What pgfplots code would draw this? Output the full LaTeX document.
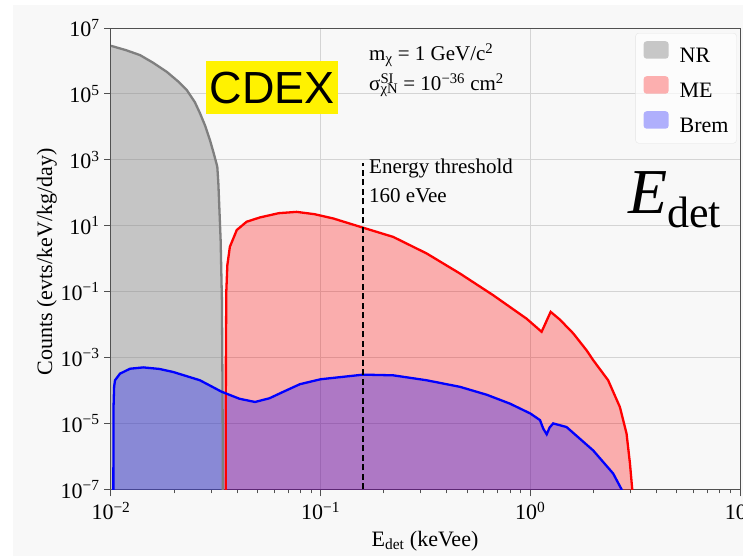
\documentclass[border=0pt]{standalone}
\usepackage{fontspec}
\setmainfont{Liberation Serif}
\newfontfamily\arial{Liberation Sans}
\usepackage{pgfplots}
\pgfplotsset{compat=1.18}
\definecolor{bgc}{HTML}{F8F8F8}
\definecolor{axc}{HTML}{505050}
\definecolor{gridc}{HTML}{D4D4D4}
\definecolor{nrline}{HTML}{7F7F7F}

\pgfplotstableread{
x y
0.01 2.88e6
0.01175 2.14e6
0.01374 1.51e6
0.01585 8.9e5
0.01845 4.68e5
0.02089 2.4e5
0.02296 1.32e5
0.02512 5.6e4
0.02655 2.63e4
0.02818 1.05e4
0.02965 3.98e3
0.0309 1.58e3
0.03214 617
0.03251 200
0.03289 31.6
0.03334 3.63
0.03381 0.055
0.03404 1e-4
0.0342 3.16e-8
}\nrdata

\pgfplotstableread{
x y
0.01 3.16e-8
0.01 2.88e6
0.01175 2.14e6
0.01374 1.51e6
0.01585 8.9e5
0.01845 4.68e5
0.02089 2.4e5
0.02296 1.32e5
0.02512 5.6e4
0.02655 2.63e4
0.02818 1.05e4
0.02965 3.98e3
0.0309 1.58e3
0.03214 617
0.03251 200
0.03289 31.6
0.03334 3.63
0.03381 0.055
0.03404 1e-4
0.0342 3.16e-8
}\nrfill

\pgfplotstableread{
x y
0.03524 3.16e-8
0.03532 1e-3
0.03548 0.1
0.03589 0.631
0.03690 2.29
0.03981 7.41
0.04436 13.2
0.05129 17.8
0.0631 24.0
0.07674 26.3
0.09333 22.4
0.1148 16.6
0.1538 9.33
0.2218 4.57
0.3199 1.445
0.4613 0.355
0.6653 0.0776
0.9594 0.0151
1.132 6.03e-3
1.25 0.0243
1.384 0.0141
1.603 5.37e-3
1.854 1.66e-3
1.995 8.32e-4
2.350 2.04e-4
2.673 3.16e-5
2.877 4.9e-6
2.985 6.3e-7
3.112 3.16e-8
}\medata

\pgfplotstableread{
x y
0.01026 3.16e-8
0.01028 3.0e-5
0.01035 1.29e-4
0.01045 2.04e-4
0.01104 3.24e-4
0.01233 4.57e-4
0.01426 5.01e-4
0.01700 4.50e-4
0.01982 3.63e-4
0.02655 2.04e-4
0.03373 9.12e-5
0.04100 5.60e-5
0.04864 4.47e-5
0.05700 5.80e-5
0.06637 9.12e-5
0.07962 1.55e-4
0.1 2.19e-4
0.1596 3.02e-4
0.2218 2.88e-4
0.3199 2.04e-4
0.4613 1.29e-4
0.6200 7.40e-5
0.7998 3.98e-5
1.000 2.00e-5
1.112 1.26e-5
1.153 6.9e-6
1.197 4.68e-6
1.236 7.5e-6
1.285 1.0e-5
1.489 7.76e-6
1.995 1.51e-6
2.483 3.02e-7
2.723 1.0e-7
2.786 3.16e-8
}\bremdata

\begin{document}
\begin{tikzpicture}[x=1pt,y=1pt]
\useasboundingbox (0,0) rectangle (743,558);
\fill[white] (0,0) rectangle (743,558);
\fill[bgc] (13,2) rectangle (743,553);
\begin{axis}[
  at={(111pt,68.7pt)}, anchor=south west,
  scale only axis, width=629pt, height=461.3pt,
  xmode=log, ymode=log,
  xmin=1e-2, xmax=1e1, ymin=1e-7, ymax=1e7,
  axis line style={axc, line width=1pt},
  tick style={axc, line width=1pt},
  major tick length=7pt, minor tick length=4pt,
  tick align=outside, xtick pos=lower, ytick pos=left,
  xtick={1e-2,1e-1,1e0,1e1},
  xticklabels={10\textsuperscript{−2},10\textsuperscript{−1},10\textsuperscript{0},10\textsuperscript{1}},
  minor xtick={2e-2,3e-2,4e-2,5e-2,6e-2,7e-2,8e-2,9e-2,2e-1,3e-1,4e-1,5e-1,6e-1,7e-1,8e-1,9e-1,2,3,4,5,6,7,8,9},
  ytick={1e-7,1e-5,1e-3,1e-1,1e1,1e3,1e5,1e7},
  yticklabels={10\textsuperscript{−7},10\textsuperscript{−5},10\textsuperscript{−3},10\textsuperscript{−1},10\textsuperscript{1},10\textsuperscript{3},10\textsuperscript{5},10\textsuperscript{7}},
  minor ytick={},
  ymajorgrids, xmajorgrids,
  major grid style={gridc, line width=1pt},
  ticklabel style={font=\fontsize{22}{24}\selectfont},
  xticklabel style={yshift=-2pt},
  yticklabel style={xshift=-1pt},
  legend style={at={(1,1)}, anchor=north east, xshift=-3.3pt, yshift=-5pt,
    draw=black!10, rounded corners=3pt, fill=white, fill opacity=0.7, text opacity=1,
    font=\fontsize{22}{24}\selectfont, inner sep=8pt, row sep=11pt, column sep=11pt,
    nodes={inner sep=0pt, text height=15pt, text depth=3pt}},
  legend cell align=left,
  legend image code/.code={\fill[#1, draw=none] (0pt,-2.5pt) rectangle (25pt,15pt);},
]
\addplot[draw=none, fill=gray, fill opacity=0.42] table[x=x,y=y] {\nrfill};
\addlegendentry{NR}
\addplot[draw=none, fill=red, fill opacity=0.3] table[x=x,y=y] {\medata};
\addlegendentry{ME}
\addplot[draw=none, fill=blue, fill opacity=0.3] table[x=x,y=y] {\bremdata};
\addlegendentry{Brem}
\addplot[forget plot, nrline, line width=2.3pt] table[x=x,y=y] {\nrdata};
\addplot[forget plot, red, line width=2.3pt] table[x=x,y=y] {\medata};
\addplot[forget plot, blue, line width=2.3pt] table[x=x,y=y] {\bremdata};
\addplot[forget plot, black, line width=2pt, dash pattern=on 6pt off 3.5pt] coordinates {(0.16,1e-7) (0.16,8e2)};
\end{axis}
\node[anchor=base, rotate=90, inner sep=0pt, font=\fontsize{22}{24}\selectfont] at (52,296) {Counts (evts/keV/kg/day)};
\node[anchor=base, inner sep=0pt, font=\fontsize{22}{24}\selectfont] at (425,12) {E\textsubscript{det} (keVee)};
\node[anchor=north west, fill=yellow, inner sep=0pt, minimum width=132pt, minimum height=53pt, font=\arial\fontsize{45}{45}\selectfont] at (206,497) {CDEX};
\node[anchor=base west, inner sep=0pt, font=\fontsize{21}{24}\selectfont] at (369,497.3) {m\textsubscript{χ} = 1 GeV/c\textsuperscript{2}};
\node[anchor=base west, inner sep=0pt, font=\fontsize{21}{24}\selectfont] at (369,467.3) {σ\rlap{\textsuperscript{SI}}\textsubscript{χN} = 10\textsuperscript{−36} cm\textsuperscript{2}};
\node[anchor=base west, inner sep=0pt, font=\fontsize{21}{24}\selectfont] at (369,384.7) {Energy threshold};
\node[anchor=base west, inner sep=0pt, font=\fontsize{21}{24}\selectfont] at (369,356) {160 eVee};
\node[anchor=base west, inner sep=0pt, font=\fontsize{64}{64}\selectfont] at (628,345) {\textit{E}\raisebox{-14pt}{\fontsize{44}{44}\selectfont det}};
\end{tikzpicture}
\end{document}
